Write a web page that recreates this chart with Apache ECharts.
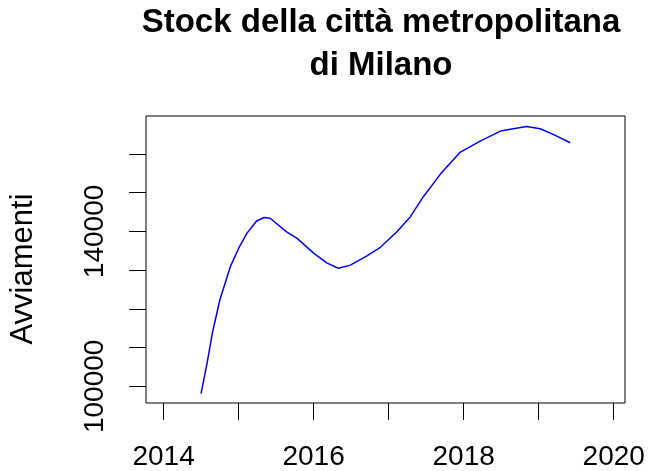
<!DOCTYPE html>
<html>
<head>
<meta charset="utf-8">
<script src="https://cdn.jsdelivr.net/npm/echarts@6/dist/echarts.min.js"></script>
<style>html,body{margin:0;padding:0;background:#fff}</style>
</head>
<body>
<div id="chart" style="width:656px;height:471px"></div>
<script>
// dati (anno decimale, avviamenti)
const anni = [2014.50, 2014.58, 2014.65, 2014.75, 2014.89, 2015.00, 2015.11, 2015.24, 2015.34, 2015.42,
  2015.64, 2015.78, 2016.00, 2016.18, 2016.33, 2016.49, 2016.71, 2016.89, 2017.11, 2017.29,
  2017.46, 2017.69, 2017.95, 2018.22, 2018.49, 2018.66, 2018.84, 2019.02, 2019.20, 2019.42];
const avviamenti = [98100, 106000, 113700, 122300, 130900, 135600, 139500, 142700, 143600, 143400,
  139900, 138200, 134400, 131800, 130500, 131300, 133700, 135900, 139900, 143800,
  148900, 154800, 160400, 163300, 165900, 166500, 167100, 166500, 165000, 162900];

// tacche e etichette degli assi
const tickAnni = [2014, 2015, 2016, 2017, 2018, 2019, 2020];
const etichetteAnni = [2014, 2016, 2018, 2020];
const tickValori = [100000, 110000, 120000, 130000, 140000, 150000, 160000];
const etichetteValori = [100000, 140000];

const font = '"Liberation Sans", Arial, sans-serif';
let chart = echarts.init(document.getElementById('chart'));

let option = {
  animation: false,
  title: {
    text: 'Stock della città metropolitana\ndi Milano',
    left: 381,
    top: 1,
    padding: 0,
    textAlign: 'center',
    textVerticalAlign: 'top',
    textStyle: {
      fontFamily: font,
      fontSize: 33,
      fontWeight: 'bold',
      lineHeight: 43,
      color: '#000'
    }
  },
  grid: {
    left: 146,
    right: 31,
    top: 116,
    bottom: 68,
    show: true,
    borderColor: '#000',
    borderWidth: 1,
    backgroundColor: 'transparent'
  },
  xAxis: {
    type: 'value',
    min: 2013.766,
    max: 2020.15,
    axisLine: { show: false, onZero: false },
    axisTick: {
      show: true,
      length: 17,
      customValues: tickAnni,
      lineStyle: { color: '#000', width: 1 }
    },
    axisLabel: {
      customValues: etichetteAnni,
      margin: 40,
      fontFamily: font,
      fontSize: 28,
      color: '#000',
      formatter: function (v) { return String(v); }
    },
    splitLine: { show: false }
  },
  yAxis: {
    type: 'value',
    min: 95700,
    max: 169800,
    name: 'Avviamenti',
    nameLocation: 'middle',
    nameGap: 107,
    nameTextStyle: {
      fontFamily: font,
      fontSize: 31,
      color: '#000',
      padding: [0, 19, 0, 0]
    },
    axisLine: { show: false, onZero: false },
    axisTick: {
      show: true,
      length: 17,
      customValues: tickValori,
      lineStyle: { color: '#000', width: 1 }
    },
    axisLabel: {
      customValues: etichetteValori,
      rotate: 90,
      margin: 37,
      fontFamily: font,
      fontSize: 28,
      color: '#000',
      formatter: function (v) { return String(v); }
    },
    splitLine: { show: false }
  },
  series: [{
    type: 'line',
    data: anni.map(function (a, i) { return [a, avviamenti[i]]; }),
    showSymbol: false,
    smooth: false,
    lineStyle: { color: '#0000ff', width: 1.5 }
  }]
};

chart.setOption(option);
</script>
</body>
</html>
